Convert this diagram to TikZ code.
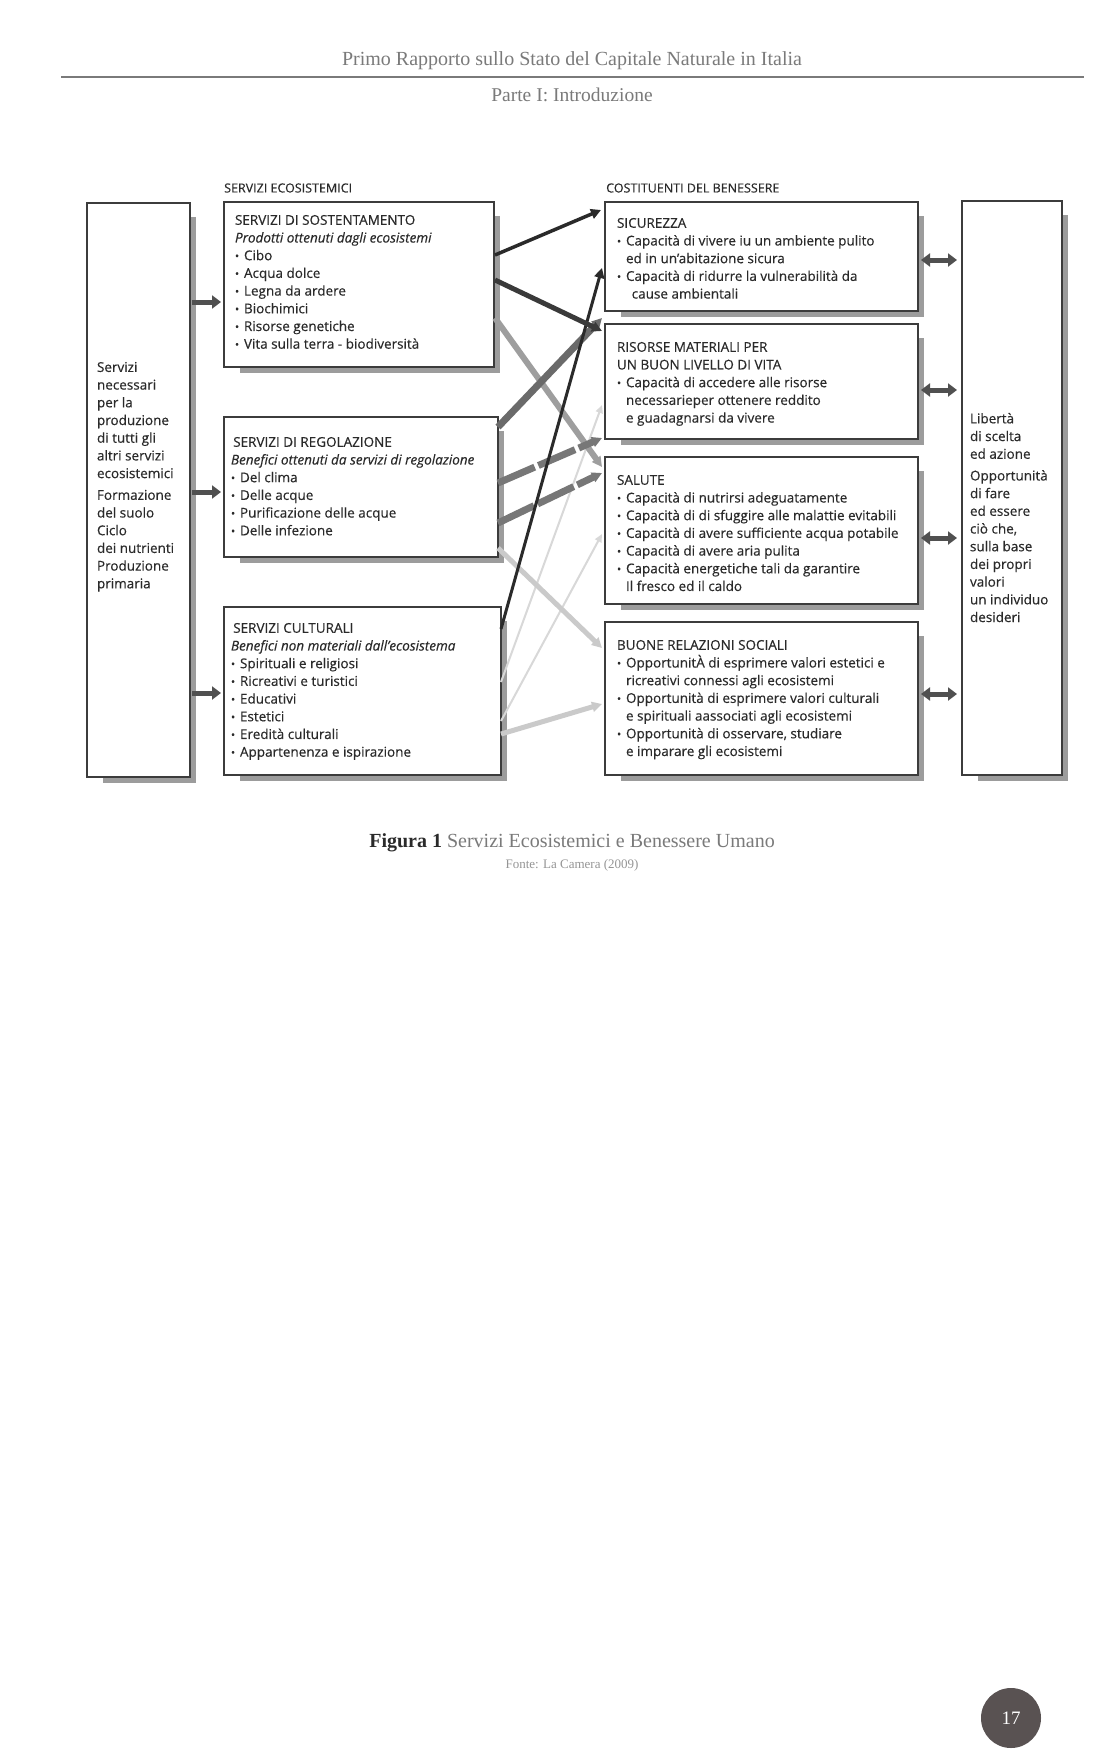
\documentclass[tikz,border=0pt]{standalone}
\usepackage{fontspec}
\setmainfont{Open Sans}[FakeBold=0.35]
\newfontfamily\serifhead{Liberation Serif}
\usetikzlibrary{arrows.meta}
\definecolor{boxc}{HTML}{3C3C3C}
\definecolor{textc}{HTML}{2A2A2A}
\definecolor{shadowc}{HTML}{9C9C9C}
\definecolor{headc}{HTML}{7A7A7A}
\definecolor{arrc}{HTML}{505050}
\definecolor{pagec}{HTML}{595252}
\definecolor{cA}{HTML}{2A2A2A}
\definecolor{cB}{HTML}{3A3A3A}
\definecolor{cC}{HTML}{9E9E9E}
\definecolor{cD}{HTML}{6A6A6A}
\definecolor{cE}{HTML}{777777}
\definecolor{cL}{HTML}{CACACA}
\definecolor{cLL}{HTML}{D8D8D8}
\newcommand{\bl}{\makebox[9pt][l]{\fontsize{11}{11}\selectfont\raisebox{0.3pt}{•}}}
\newcommand{\ind}{\hspace*{9pt}}
\newcommand{\shbox}[5]{%
  \fill[shadowc] (#2+16,#3+14) rectangle (#4+6,#5+6);
  \node[box, minimum width=#4-#2, minimum height=#5-#3] (#1) at (#2,#3) {};}
\begin{document}
\begin{tikzpicture}[x=1pt,y=-1pt,
  box/.style={draw=boxc, line width=1.4pt, fill=white, inner sep=0pt, outer sep=0pt, anchor=north west},
  txt/.style={anchor=north west, inner sep=0pt, outer sep=0pt, align=left, text=textc, font=\fontsize{13.5}{17.7}\selectfont},
  lbl/.style={anchor=west, inner sep=0pt, text=textc, font=\fontsize{12.5}{14}\selectfont},
  smallarr/.style={draw=arrc, line width=5pt, -{Triangle[length=9pt,width=13pt]}},
  dblarr/.style={draw=arrc, line width=5pt, {Triangle[length=9pt,width=13pt]}-{Triangle[length=9pt,width=13pt]}},
  conn/.style={line width=#1, -{Triangle[length=10pt,width=10pt]}},
  thinconn/.style={line width=#1, -{Triangle[length=8pt,width=7pt]}}
]
\useasboundingbox[fill=white] (0,0) rectangle (1112,1753);

% header
\node[font=\serifhead\fontsize{20}{22}\selectfont, text=headc] (hd) at (572,61) {Primo Rapporto sullo Stato del Capitale Naturale in Italia};
\coordinate (rl) at (61,77);
\coordinate (rr) at (1084,77);
\draw[headc, line width=1.3pt] (rl) -- (rr);
\node[font=\serifhead\fontsize{19.5}{22}\selectfont, text=headc] (pt) at (572,95) {Parte I: Introduzione};

% column labels
\node[lbl] (lse) at (224,188) {SERVIZI ECOSISTEMICI};
\node[lbl] (lcb) at (606,188) {COSTITUENTI DEL BENESSERE};

% boxes
\shbox{L}{87}{203}{190}{777}
\shbox{sost}{224}{202}{494}{367}
\shbox{reg}{224}{417}{498}{557}
\shbox{cult}{224}{607}{501}{775}
\shbox{sic}{605}{202}{918}{311}
\shbox{ris}{605}{324}{918}{439}
\shbox{sal}{605}{457}{918}{604}
\shbox{buo}{605}{622}{918}{775}
\shbox{R}{962}{201}{1062}{775}

% texts
\node[txt] (LT) at (97,362) {Servizi\\ necessari\\ per la\\ produzione\\ di tutti gli\\ altri servizi\\ ecosistemici\\[4pt] Formazione\\ del suolo\\ Ciclo\\ dei nutrienti\\ Produzione\\ primaria};

\node[txt] (sostT) at (235,215) {SERVIZI DI SOSTENTAMENTO\\ \textit{Prodotti ottenuti dagli ecosistemi}\\ \bl Cibo\\ \bl Acqua dolce\\ \bl Legna da ardere\\ \bl Biochimici\\ \bl Risorse genetiche\\ \bl Vita sulla terra - biodiversità};

\node[txt] (regT) at (231,437) {\,SERVIZI DI REGOLAZIONE\\ \textit{Benefici ottenuti da servizi di regolazione}\\ \bl Del clima\\ \bl Delle acque\\ \bl Purificazione delle acque\\ \bl Delle infezione};

\node[txt] (cultT) at (231,623) {\,SERVIZI CULTURALI\\ \textit{Benefici non materiali dall’ecosistema}\\ \bl Spirituali e religiosi\\ \bl Ricreativi e turistici\\ \bl Educativi\\ \bl Estetici\\ \bl Eredità culturali\\ \bl Appartenenza e ispirazione};

\node[txt] (sicT) at (617,218) {SICUREZZA\\ \bl Capacità di vivere iu un ambiente pulito\\ \ind ed in un’abitazione sicura\\ \bl Capacità di ridurre la vulnerabilità da\\ \ind\, cause ambientali};

\node[txt] (risT) at (617,342) {RISORSE MATERIALI PER\\ UN BUON LIVELLO DI VITA\\ \bl Capacità di accedere alle risorse\\ \ind necessarieper ottenere reddito\\ \ind e guadagnarsi da vivere};

\node[txt] (salT) at (617,475) {SALUTE\\ \bl Capacità di nutrirsi adeguatamente\\ \bl Capacità di di sfuggire alle malattie evitabili\\ \bl Capacità di avere sufficiente acqua potabile\\ \bl Capacità di avere aria pulita\\ \bl Capacità energetiche tali da garantire\\ \ind Il fresco ed il caldo};

\node[txt] (buoT) at (617,640) {BUONE RELAZIONI SOCIALI\\ \bl OpportunitÀ di esprimere valori estetici e\\ \ind ricreativi connessi agli ecosistemi\\ \bl Opportunità di esprimere valori culturali\\ \ind e spirituali aassociati agli ecosistemi\\ \bl Opportunità di osservare, studiare\\ \ind e imparare gli ecosistemi};

\node[txt] (RT) at (970,413) {Libertà\\ di scelta\\ ed azione\\[4pt] Opportunità\\ di fare\\ ed essere\\ ciò che,\\ sulla base\\ dei propri\\ valori\\ un individuo\\ desideri};

% left arrows
\draw[smallarr] ([shift={(2,99)}]L.north east) -- ([shift={(-3,100)}]sost.north west);
\draw[smallarr] ([shift={(2,289)}]L.north east) -- ([shift={(-3,75)}]reg.north west);
\draw[smallarr] ([shift={(2,490)}]L.north east) -- ([shift={(-3,86)}]cult.north west);

% right double arrows
\draw[dblarr] ([shift={(3,58)}]sic.north east) -- ([shift={(-5,59)}]R.north west);
\draw[dblarr] ([shift={(3,66)}]ris.north east) -- ([shift={(-5,189)}]R.north west);
\draw[dblarr] ([shift={(3,81)}]sal.north east) -- ([shift={(-5,337)}]R.north west);
\draw[dblarr] ([shift={(3,72)}]buo.north east) -- ([shift={(-5,493)}]R.north west);

% connectors (light first)
\draw[thinconn=2pt, cLL] ([shift={(0,75)}]cult.north east) -- ([shift={(-3,81)}]ris.north west);
\draw[thinconn=2pt, cLL] ([shift={(0,114)}]cult.north east) -- ([shift={(-3,77)}]sal.north west);
\draw[conn=5pt, cL] ([shift={(0,127)}]cult.north east) -- ([shift={(-3,82)}]buo.north west);
\draw[conn=5pt, cL] ([shift={(0,131)}]reg.north east) -- ([shift={(-3,26)}]buo.north west);
\draw[conn=6pt, cC] ([shift={(1,116)}]sost.north east) -- ([shift={(-3,10)}]sal.north west);
\draw[conn=7pt, cE, dash pattern=on 40pt off 4pt] ([shift={(0,66)}]reg.north east) -- ([shift={(-3,114)}]ris.north west);
\draw[conn=7pt, cE, dash pattern=on 40pt off 4pt] ([shift={(0,106)}]reg.north east) -- ([shift={(-3,16)}]sal.north west);
\draw[conn=7pt, cD] ([shift={(0,10)}]reg.north east) -- ([shift={(-3,-6)}]ris.north west);
\draw[conn=3pt, cA] ([shift={(0,22)}]cult.north east) -- ([shift={(-3,66)}]sic.north west);
\draw[conn=5pt, cB] ([shift={(1,78)}]sost.north east) -- ([shift={(-3,7)}]ris.north west);
\draw[conn=3.5pt, cA] ([shift={(1,53)}]sost.north east) -- ([shift={(-4,8)}]sic.north west);

% caption
\node[font=\serifhead\fontsize{20}{22}\selectfont, text=headc] (cap) at (572,843) {\textcolor{textc}{\textbf{Figura 1}} Servizi Ecosistemici e Benessere Umano};
\node[font=\serifhead\fontsize{13}{15}\selectfont, text=headc!80] (src) at (572,865) {Fonte: La Camera (2009)};

% page number
\node[circle, fill=pagec, minimum size=60pt, inner sep=0pt, text=white, font=\serifhead\fontsize{19}{21}\selectfont] (pg) at (1011,1718) {17};
\end{tikzpicture}
\end{document}
